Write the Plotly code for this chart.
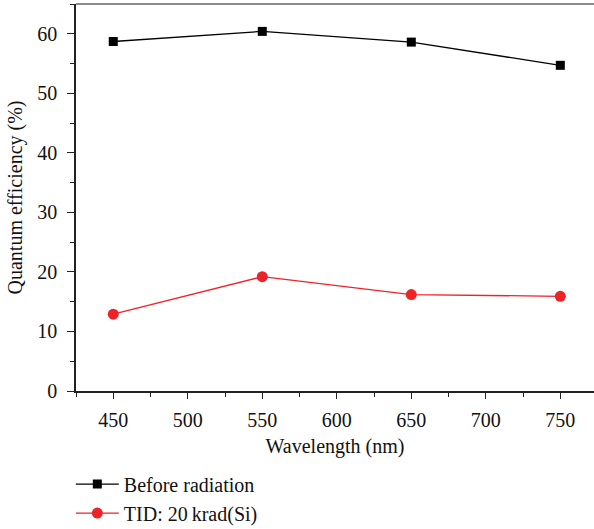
import plotly.graph_objects as go

wavelength = [450, 550, 650, 750]
before_radiation = [58.7, 60.4, 58.6, 54.7]
tid_20krad = [12.9, 19.2, 16.2, 15.9]

series_names = ["Before radiation", "TID: 20\u2009krad(Si)"]

FONT = "Liberation Serif"
FS = 20

fig = go.Figure()
fig.add_trace(go.Scatter(
    x=wavelength, y=before_radiation, name=series_names[0],
    mode="lines+markers",
    line=dict(color="black", width=1.3),
    marker=dict(symbol="square", size=9, color="black"),
))
fig.add_trace(go.Scatter(
    x=wavelength, y=tid_20krad, name=series_names[1],
    mode="lines+markers",
    line=dict(color="#EE2229", width=1.3),
    marker=dict(symbol="circle", size=11, color="#EE2229"),
))

fig.update_layout(
    width=594, height=529,
    margin=dict(l=76, r=0, t=4, b=138, autoexpand=False),
    paper_bgcolor="white", plot_bgcolor="white",
    font=dict(family=FONT, size=FS, color="#111"),
    showlegend=True,
    legend=dict(
        x=-0.01, xanchor="left", y=-0.19, yanchor="top",
        font=dict(family=FONT, size=FS, color="#111"),
        bgcolor="rgba(0,0,0,0)", tracegroupgap=0, itemwidth=43,
    ),
    xaxis=dict(
        range=[425, 772.6], showgrid=False, zeroline=False,
        showline=True, linecolor="#222", linewidth=1.6,
        ticks="outside", ticklen=6, tickwidth=1.3, tickcolor="#222",
        tick0=0, dtick=50, ticklabelstandoff=4,
        minor=dict(ticks="outside", ticklen=4, tickwidth=1.3, tickcolor="#222", dtick=25, tick0=0),
        tickfont=dict(family=FONT, size=FS),
        title=dict(text="Wavelength (nm)", font=dict(family=FONT, size=FS), standoff=9),
    ),
    yaxis=dict(
        range=[0, 65], showgrid=False, zeroline=False,
        showline=True, linecolor="#222", linewidth=1.6,
        ticks="outside", ticklen=7, tickwidth=1.3, tickcolor="#222",
        tick0=0, dtick=10, ticklabelstandoff=6,
        minor=dict(ticks="outside", ticklen=4, tickwidth=1.3, tickcolor="#222", dtick=5, tick0=0),
        tickfont=dict(family=FONT, size=FS),
        title=dict(text="Quantum efficiency (%)", font=dict(family=FONT, size=FS), standoff=9),
    ),
    shapes=[dict(type="line", xref="paper", yref="paper", x0=0, x1=1, y0=1, y1=1,
                 line=dict(color="#666", width=1.5))],
)

fig.write_html("out.html", config={"displayModeBar": False},
               post_script="document.body.style.margin='0';document.body.style.padding='0';")
